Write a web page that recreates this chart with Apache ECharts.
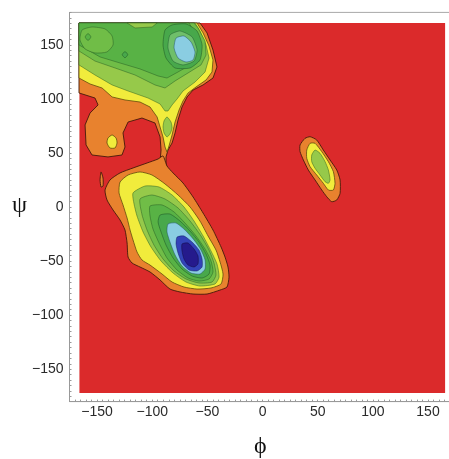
<!DOCTYPE html>
<html><head><meta charset="utf-8">
<script src="https://cdn.jsdelivr.net/npm/echarts@6/dist/echarts.min.js"></script>
<style>html,body{margin:0;padding:0;background:#fff;}#c{width:449px;height:459px;}</style>
</head><body><div id="c"></div>
<script>
// ---- axis ticks ----
const phiTicks = [-150, -100, -50, 0, 50, 100, 150];
const psiTicks = [-150, -100, -50, 0, 50, 100, 150];

// ---- contour polygons, [phi, psi] in degrees ----
const redField = [[-166,-172],[165.5,-172],[165.5,170.2],[-166,170.2]];

const betaOrange = [[-166.4,170.2],[-56.7,170.2],[-50.3,161],[-44.9,145.2],[-41.3,129.5],[-44.9,119.3],[-53.9,112.9],[-63,108.2],[-68.4,101.8],[-73,92.5],[-76.6,80.5],[-79.3,68.5],[-82,59.2],[-85.7,52.7],[-87.5,46.3],[-87.5,37.9],[-92.9,41.6],[-92,52.7],[-92.9,64.8],[-97.5,77.7],[-109.3,82.3],[-121.9,78.6],[-126.5,68.5],[-124.7,55.5],[-127.4,48.1],[-140.1,46.3],[-154.6,48.1],[-160,57.4],[-160.9,75.9],[-156.4,86.9],[-149.1,94.4],[-151.9,100.8],[-166.4,105.5]];
const alphaOrange = [[-90.2,47.2],[-86.6,37.9],[-81.1,31.5],[-72.1,22.2],[-63,9.3],[-53.9,-5.6],[-44.9,-21.3],[-37.6,-37],[-34,-46.3],[-31.3,-55.5],[-30.4,-64.8],[-32.2,-74],[-38.5,-76.8],[-50.3,-80.5],[-63,-80.5],[-74.8,-78.6],[-83.9,-75.9],[-92.9,-67.5],[-102,-60.1],[-111.1,-55.5],[-118.3,-51.8],[-121.9,-46.3],[-122.8,-33.3],[-124.7,-21.3],[-129.2,-12],[-135.5,-2.8],[-141,6.5],[-142.8,15.7],[-138.3,25],[-129.2,31.5],[-117.4,36.1],[-104.7,40.7],[-94.7,44.4]];
const sliverOrange = [[-146.4,32.4],[-144.6,26.8],[-144.6,19.4],[-146.4,18.5],[-147.3,25]];
const spotYellow = [[-136.4,66.6],[-132.8,63.8],[-131.9,59.2],[-133.7,54.6],[-138.3,54.6],[-141,59.2],[-140.1,63.8]];

const betaYellow = [[-166.4,119.3],[-156.4,113.8],[-145.5,110.1],[-136.4,101.8],[-124.7,99],[-111.1,97.1],[-102,92.5],[-95.6,83.3],[-92.9,74],[-90.2,64.8],[-88.4,55.5],[-86.6,50.9],[-84.8,56.4],[-82,66.6],[-79.3,78.6],[-75.7,89.7],[-72.1,98.1],[-67.5,105.5],[-60.3,111],[-51.2,117.5],[-45.8,124.9],[-44.9,136],[-48.5,148.9],[-53.9,161],[-59.4,170.2],[-166.4,170.2]];
const alphaYellow = [[-129.2,23.1],[-121.9,29.6],[-111.1,32.4],[-100.2,29.6],[-88.4,21.3],[-76.6,11.1],[-65.7,0],[-56.7,-13],[-49.4,-26.8],[-42.2,-39.8],[-38.5,-50.9],[-35.8,-62],[-37.6,-71.2],[-46.7,-74.9],[-59.4,-75.9],[-71.2,-74],[-82,-69.4],[-91.1,-62],[-102,-53.7],[-109.3,-49],[-113.8,-41.6],[-117.4,-30.5],[-120.1,-21.3],[-122.8,-10.2],[-126.5,1.9],[-130.1,13]];

const betaL3 = [[-166.4,131.4],[-151.9,122.1],[-136.4,112.9],[-121.9,107.3],[-103.8,100.8],[-92.9,95.3],[-88.4,88.8],[-85.7,88.8],[-82,94.4],[-77.5,99.9],[-72.1,107.3],[-61.2,115.6],[-52.1,124.9],[-48.5,137.8],[-51.2,149.9],[-56.7,162.8],[-61.2,170.2],[-166.4,170.2]];
const tailL3 = [[-86.6,83.3],[-83,78.6],[-82,73.1],[-83.9,67.5],[-86.6,64.8],[-89.3,68.5],[-90.2,74],[-89.3,79.6]];
const betaL4 = [[-166.4,144.3],[-151.9,135],[-133.7,128.6],[-115.6,122.1],[-97.5,112.9],[-88.4,110.1],[-79.3,116.6],[-67.5,124],[-55.8,131.4],[-51.2,140.6],[-52.1,153.6],[-58.5,165.6],[-62.1,170.2],[-166.4,170.2]];
const betaL5 = [[-166.4,149.9],[-147.3,138.8],[-129.2,133.2],[-111.1,127.7],[-94.7,121.2],[-86.6,119.3],[-76.6,124.9],[-63.9,132.3],[-57.6,140.6],[-57.6,152.6],[-63,163.7],[-66.6,170.2],[-166.4,170.2]];
const betaPatch = [[-163.6,163.7],[-154.6,166.5],[-142.8,164.7],[-136.4,158.2],[-135.5,149.9],[-141,143.4],[-151.9,142.5],[-160.9,146.2],[-165.5,154.5]];
const patchSpot = [[-158.2,160.5],[-155.6,157.3],[-158.2,154],[-160.8,157.3]];
const smallSpot = [[-124.7,143.8],[-122.2,140.9],[-124.7,138],[-127.2,140.9]];
const topEdgeL3 = [[-122.8,170.2],[-95.6,170.2],[-100.1,166.5],[-115.6,165.6]];
const betaL6 = [[-88.4,163.7],[-82,168.4],[-69.4,169.3],[-59.4,162.8],[-54.8,149.9],[-56.7,136],[-65.7,128.6],[-79.3,128.6],[-87.5,137.8],[-90.2,149.9]];
const betaL7 = [[-83.9,159.1],[-74.8,162.8],[-63.9,157.3],[-59.4,145.2],[-62.1,135],[-72.1,131.4],[-81.1,135],[-85.7,147.1]];
const betaCyan = [[-78.4,156.3],[-71.2,158.2],[-64.8,152.6],[-61.2,143.4],[-63,136],[-69.4,134.1],[-76.6,137.8],[-80.2,147.1]];

const alphaL3 = [[-117.4,13],[-106.5,19.4],[-93.8,18.5],[-82,11.1],[-71.2,0],[-62.1,-13],[-53.9,-26.8],[-46.7,-40.7],[-41.3,-52.7],[-39.4,-64.8],[-43.1,-71.2],[-56.7,-73.1],[-69.4,-69.4],[-81.1,-61.1],[-92,-50],[-101.1,-37],[-108.3,-23.1],[-113.8,-8.3],[-116.5,2.8]];
const alphaL4 = [[-111.1,7.4],[-100.2,11.1],[-88.4,7.4],[-76.6,-0.9],[-65.7,-13],[-55.8,-26.8],[-48.5,-39.8],[-44,-51.8],[-42.2,-62.9],[-45.8,-69.4],[-57.6,-70.3],[-69.4,-66.6],[-80.2,-59.2],[-90.2,-48.1],[-98.4,-35.2],[-104.7,-21.3],[-109.2,-7.4]];
const alphaL5 = [[-102,0.9],[-91.1,1.9],[-80.2,-4.6],[-70.3,-14.8],[-60.3,-26.8],[-52.1,-38.9],[-46.7,-50],[-44.9,-60.1],[-48.5,-66.6],[-57.6,-68.5],[-67.5,-65.7],[-77.5,-58.3],[-86.6,-47.2],[-93.8,-33.3],[-99.3,-20.4],[-102,-8.3]];
const alphaL6 = [[-92.9,-7.4],[-83.9,-6.5],[-74.8,-13],[-65.7,-22.2],[-57.6,-32.4],[-51.2,-43.5],[-47.6,-53.7],[-48.5,-62],[-54.8,-65.7],[-63.9,-63.8],[-73,-57.4],[-81.1,-47.2],[-87.5,-35.2],[-92,-23.1],[-94.7,-13.9]];
const alphaCyan = [[-85.7,-15.7],[-78.4,-14.8],[-70.3,-21.3],[-62.1,-30.5],[-55.8,-39.8],[-52.1,-49],[-52.1,-57.4],[-56.7,-62],[-64.8,-61.1],[-73,-54.6],[-79.3,-44.4],[-83.9,-32.4],[-86.6,-23.1]];
const alphaBlue = [[-77.5,-27.8],[-71.2,-26.8],[-63.9,-32.4],[-57.6,-39.8],[-54.8,-48.1],[-54.8,-55.5],[-59.4,-59.2],[-66.6,-58.3],[-73,-51.8],[-76.6,-42.6],[-78.4,-34.2]];
const alphaNavy = [[-73,-34.2],[-67.5,-33.3],[-62.1,-38.9],[-58.5,-45.3],[-58.5,-52.7],[-62.1,-55.5],[-67.5,-53.7],[-71.2,-48.1],[-73,-40.7]];

const islandOrange = [[34,57.4],[38.5,63.5],[43.1,65],[49.1,62],[55.1,52.7],[61.2,43.5],[67.3,34.2],[70.3,25],[70.3,12.7],[67.3,6.5],[62.7,4.9],[58.2,9.5],[53.7,15.7],[47.6,25],[41.5,34.2],[37,43.5],[34,51.2]];
const islandYellow = [[40.1,52.7],[43.1,58.9],[47.6,58.9],[53.7,51.2],[59.7,41.9],[64.2,32.7],[65.7,21.9],[64.2,15.7],[59.7,15.7],[55.1,21.9],[49.1,29.6],[43.1,37.3],[40.1,45]];
const islandGreen = [[44.6,48.1],[47.6,52.7],[52.1,49.7],[56.7,41.9],[59.7,34.2],[61.2,25],[59.7,21.9],[56.7,23.4],[52.1,29.6],[47.6,35.8],[44.6,41.9]];

// ---- styles per level ----
const palette = {
  red:    {fill:'#db2a2b', stroke:'#db2a2b', lw:0},
  orange: {fill:'#e8822e', stroke:'rgba(70,25,10,0.9)', lw:1},
  yellow: {fill:'#f1ec3c', stroke:'rgba(90,70,10,0.75)', lw:1},
  l3:     {fill:'#96c94a', stroke:'rgba(40,90,30,0.6)', lw:0.8},
  l4:     {fill:'#70bd47', stroke:'rgba(30,80,30,0.55)', lw:0.8},
  l5:     {fill:'#58b245', stroke:'rgba(30,80,30,0.55)', lw:0.8},
  l6:     {fill:'#48a84b', stroke:'rgba(20,70,30,0.55)', lw:0.8},
  l7:     {fill:'#6fbf6a', stroke:'rgba(20,70,40,0.5)', lw:0.8},
  cyan:   {fill:'#8acde2', stroke:'rgba(20,70,90,0.55)', lw:0.8},
  blue:   {fill:'#3343b9', stroke:'rgba(20,30,90,0.6)', lw:0.8},
  navy:   {fill:'#251a8c', stroke:'rgba(20,10,60,0.6)', lw:0.8}
};

// [polygon, level, touches plot edge]
const layers = [
  [redField,'red',1],
  [betaOrange,'orange',1],[alphaOrange,'orange',0],[sliverOrange,'orange',0],[islandOrange,'orange',0],
  [spotYellow,'yellow',0],[betaYellow,'yellow',1],[alphaYellow,'yellow',0],[islandYellow,'yellow',0],
  [betaL3,'l3',1],[tailL3,'l3',0],[alphaL3,'l3',0],[islandGreen,'l3',0],
  [betaL4,'l4',1],[alphaL4,'l4',0],
  [betaL5,'l5',1],[alphaL5,'l5',0],
  [betaPatch,'l4',0],[patchSpot,'l5',0],[smallSpot,'l6',0],[topEdgeL3,'l3',1],
  [betaL6,'l6',0],[betaL7,'l7',0],[betaCyan,'cyan',0],
  [alphaL6,'l6',0],[alphaCyan,'cyan',0],[alphaBlue,'blue',0],[alphaNavy,'navy',0]
];

const chart = echarts.init(document.getElementById('c'), null, {renderer:'canvas'});
const labelFmt = ticks => v => ticks.indexOf(v) >= 0 ? String(v).replace('-', '\u2212') : '';
const tickFont = {fontFamily:'Liberation Sans', fontSize:14, color:'#2a2a2a'};

chart.setOption({
  animation:false,
  backgroundColor:'#fff',
  grid:{left:69.5, top:12.4, width:391.6, height:389.2, show:true, borderColor:'#a8a8a8', borderWidth:1,
        containLabel:false, outerBoundsMode:'none'},
  xAxis:{type:'value', min:-175, max:180, interval:5,
    axisLine:{show:true, onZero:false, lineStyle:{color:'#999'}},
    axisTick:{show:true, inside:true, length:2, lineStyle:{color:'#999'}},
    splitLine:{show:false},
    axisLabel:Object.assign({margin:4, interval:0, formatter:labelFmt(phiTicks)}, tickFont)},
  yAxis:{type:'value', min:-180, max:180, interval:5,
    axisLine:{show:true, onZero:false, lineStyle:{color:'#999'}},
    axisTick:{show:true, inside:true, length:2, lineStyle:{color:'#999'}},
    splitLine:{show:false},
    axisLabel:Object.assign({margin:6, interval:0, formatter:labelFmt(psiTicks)}, tickFont)},
  graphic:[
    {type:'text', left:12, top:194, style:{text:'\u03C8', font:'24px "Liberation Serif"', fill:'#111'}},
    {type:'text', left:254, top:435, style:{text:'\u03D5', font:'24px "Liberation Serif"', fill:'#111'}}
  ],
  series:[{
    type:'custom', coordinateSystem:'cartesian2d', clip:true, silent:true,
    data: layers.map(() => [0, 0]),
    renderItem: function(params, api){
      const L = layers[params.dataIndex];
      const st = palette[L[1]];
      return {type:'polygon',
        shape:{points: L[0].map(p => api.coord(p)), smooth: L[2] ? 0 : 0.2},
        style:{fill:st.fill, stroke:st.stroke, lineWidth:st.lw}};
    }
  }]
});
</script></body></html>
